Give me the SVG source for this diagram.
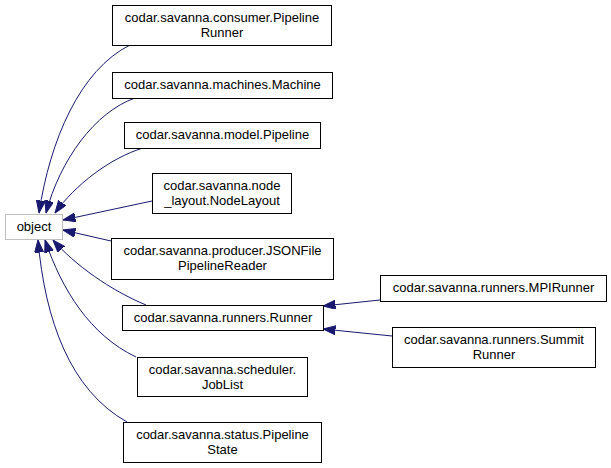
<svg xmlns="http://www.w3.org/2000/svg" width="611" height="468" viewBox="0 0 611 468">
<style>
.n rect{fill:#fff;stroke:#000;stroke-width:1}
.o rect{fill:#fff;stroke:#bfbfbf;stroke-width:1}
text{font-family:"Liberation Sans",Arial,sans-serif;font-size:13px;fill:#000;text-anchor:middle}
#edges path{fill:none;stroke:#191970;stroke-width:1;marker-end:url(#ah)}
</style>
<defs>
<marker id="ah" markerUnits="userSpaceOnUse" markerWidth="13" markerHeight="10" refX="12.5" refY="4.5" orient="auto">
<path d="M0,0 L12.5,4.5 L0,9 z" fill="#191970" stroke="#191970" stroke-width="1"/>
</marker>
</defs>
<rect width="611" height="468" fill="#fff"/>
<g id="edges">
<path d="M130,45 C80,70 50,140 39,213"/>
<path d="M135,98 C95,112 60,160 46,213"/>
<path d="M143,148 C110,158 75,185 55,213"/>
<path d="M152,201 L63,220"/>
<path d="M111,241 L63,230"/>
<path d="M146,305 C110,290 75,265 53,240"/>
<path d="M136,357 C90,335 62,290 45,240"/>
<path d="M127,422 C70,390 45,320 38,240"/>
<path d="M380,300 L323,306"/>
<path d="M392,336 L323,329"/>
</g>
<g id="object" class="o"><rect x="5.5" y="214.5" width="57" height="25"/><text x="34" y="231">object</text></g>
<g id="n1" class="n"><rect x="112.5" y="5.5" width="219" height="40"/><text x="222" y="22">codar.savanna.consumer.Pipeline</text><text x="222" y="37">Runner</text></g>
<g id="n2" class="n"><rect x="112.5" y="72.5" width="220" height="26"/><text x="222.5" y="89">codar.savanna.machines.Machine</text></g>
<g id="n3" class="n"><rect x="124.5" y="122.5" width="196" height="26"/><text x="222.5" y="139">codar.savanna.model.Pipeline</text></g>
<g id="n4" class="n"><rect x="152.5" y="173.5" width="139" height="40"/><text x="222" y="190">codar.savanna.node</text><text x="222" y="205">_layout.NodeLayout</text></g>
<g id="n5" class="n"><rect x="111.5" y="238.5" width="222" height="41"/><text x="222.5" y="255">codar.savanna.producer.JSONFile</text><text x="222.5" y="270">PipelineReader</text></g>
<g id="n6" class="n"><rect x="122.5" y="305.5" width="201" height="25"/><text x="223" y="322">codar.savanna.runners.Runner</text></g>
<g id="n7" class="n"><rect x="137.5" y="357.5" width="170" height="39"/><text x="222.5" y="374">codar.savanna.scheduler.</text><text x="222.5" y="389">JobList</text></g>
<g id="n8" class="n"><rect x="123.5" y="422.5" width="198" height="40"/><text x="222.5" y="439">codar.savanna.status.Pipeline</text><text x="222.5" y="454">State</text></g>
<g id="n9" class="n"><rect x="380.5" y="275.5" width="226" height="26"/><text x="493.5" y="292">codar.savanna.runners.MPIRunner</text></g>
<g id="n10" class="n"><rect x="392.5" y="327.5" width="203" height="40"/><text x="494" y="344">codar.savanna.runners.Summit</text><text x="494" y="359">Runner</text></g>
</svg>
